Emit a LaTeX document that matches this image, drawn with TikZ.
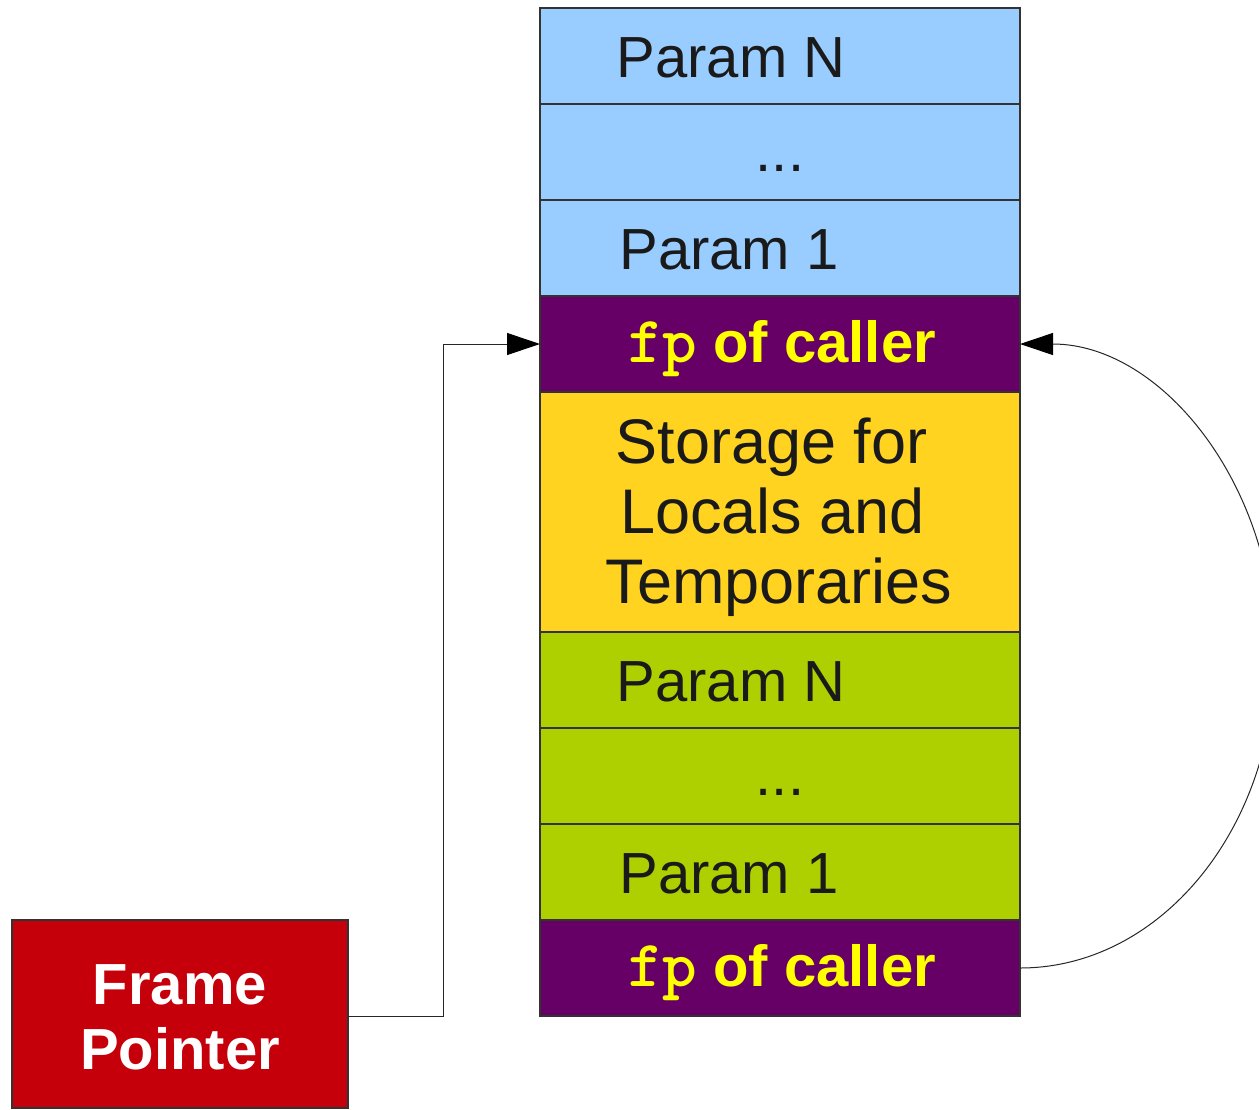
\documentclass[tikz,border=0pt]{standalone}
\usepackage{fontspec}
\setmainfont{Liberation Sans}
\usetikzlibrary{arrows.meta}
\definecolor{cblue}{HTML}{99CCFF}
\definecolor{cpurple}{HTML}{660066}
\definecolor{cgold}{HTML}{FFD320}
\definecolor{cgreen}{HTML}{AECF00}
\definecolor{cred}{HTML}{C5000B}
\definecolor{cyel}{HTML}{FFFF00}
\definecolor{ctext}{HTML}{1A1A1A}
\definecolor{cborder}{HTML}{333333}
\newcommand{\fpword}{{\fontsize{66}{70}\selectfont\ttfamily\bfseries fp}}
\begin{document}
\begin{tikzpicture}[x=1pt,y=-1pt,
  cell/.style={draw=cborder, line width=1.2pt, minimum width=480pt, minimum height=96pt, inner sep=0pt, outer sep=0pt},
  lbl/.style={anchor=base, inner sep=0pt, text=ctext, font=\fontsize{58}{70}\selectfont},
  big/.style={anchor=base, inner sep=0pt, text=ctext, font=\fontsize{63}{70}\selectfont},
  fplbl/.style={anchor=base, inner sep=0pt, text=cyel, font=\fontsize{58}{70}\selectfont\bfseries},
  fplbl2/.style={anchor=base, inner sep=0pt, text=white, font=\fontsize{58}{70}\selectfont\bfseries},
  conn/.style={draw=black!85, line width=1pt},
  tip/.style={-{Triangle[length=33pt,width=22pt,color=black,fill=black]}}]
\useasboundingbox (0,0) rectangle (1259,1109);
\clip (0,0) rectangle (1259,1109);
% stack cells
\node[cell, fill=cblue] (c1) at (780,56) {};
\node[cell, fill=cblue] (c2) at (780,152) {};
\node[cell, fill=cblue] (c3) at (780,248) {};
\node[cell, fill=cpurple] (c4) at (780,344) {};
\node[cell, fill=cgold, minimum height=240pt] (c5) at (780,512) {};
\node[cell, fill=cgreen] (c6) at (780,680) {};
\node[cell, fill=cgreen] (c7) at (780,776) {};
\node[cell, fill=cgreen] (c8) at (780,872) {};
\node[cell, fill=cpurple] (c9) at (780,968) {};
% frame pointer box
\node[draw=cborder, line width=1.2pt, fill=cred, minimum width=336pt, minimum height=188pt, inner sep=0pt, outer sep=0pt] (fp) at (180,1014) {};
% labels
\node[lbl] (t1) at (731,77) {Param N};
\node[lbl] (t2) at (780,171) {...};
\node[lbl] (t3) at (729,269) {Param 1};
\node[fplbl] (t4) at (782,362) {\fpword{} of caller};
\node[big] (t5a) at (771.5,463) {Storage for};
\node[big] (t5b) at (772.5,533) {Locals and};
\node[big] (t5c) at (779,603) {Temporaries};
\node[lbl] (t6) at (731,701) {Param N};
\node[lbl] (t7) at (780,795) {...};
\node[lbl] (t8) at (729,893) {Param 1};
\node[fplbl] (t9) at (782,986) {\fpword{} of caller};
\node[fplbl2] (f1) at (180,1004) {Frame};
\node[fplbl2] (f2) at (180,1069) {Pointer};
% connectors
\draw[conn, tip] ([yshift=-2pt]fp.east) -- ++(95,0) |- (c4.west);
\draw[conn, tip] (c9.east) .. controls (1160.8,968) and (1275,828.3) .. (1275,656)
  .. controls (1275,483.7) and (1160.8,344) .. (c4.east);
\end{tikzpicture}
\end{document}
